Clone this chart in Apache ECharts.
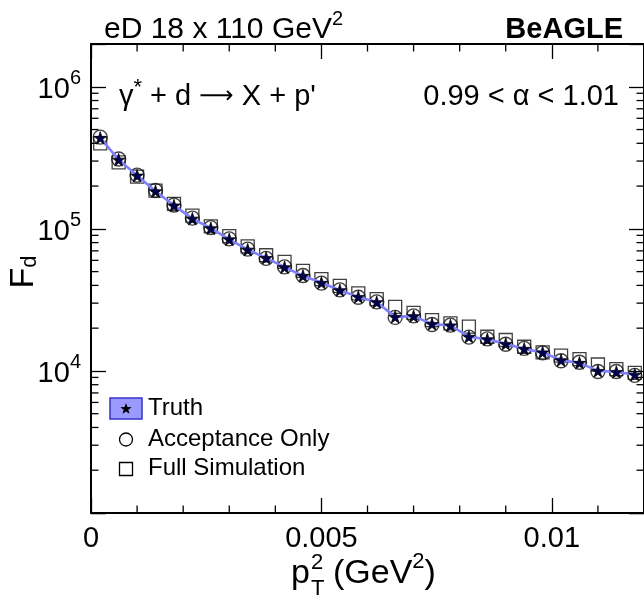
<!DOCTYPE html>
<html>
<head>
<meta charset="utf-8">
<script src="https://cdn.jsdelivr.net/npm/echarts@6/dist/echarts.min.js"></script>
<style>
html,body{margin:0;padding:0;background:#fff;}
#chart{width:644px;height:600px;}
</style>
</head>
<body>
<div id="chart"></div>
<script>
// ---- data ----
const pt2 = [0.0002, 0.0006, 0.0010, 0.0014, 0.0018, 0.0022, 0.0026, 0.0030, 0.0034, 0.0038,
             0.0042, 0.0046, 0.0050, 0.0054, 0.0058, 0.0062, 0.0066, 0.0070, 0.0074, 0.0078,
             0.0082, 0.0086, 0.0090, 0.0094, 0.0098, 0.0102, 0.0106, 0.0110, 0.0114, 0.0118];
const truth = [4.37e5, 3.07e5, 2.37e5, 1.84e5, 1.46e5, 1.18e5, 1.01e5, 8.44e4, 7.14e4, 6.24e4,
               5.37e4, 4.67e4, 4.17e4, 3.70e4, 3.32e4, 3.05e4, 2.40e4, 2.43e4, 2.14e4, 2.09e4,
               1.74e4, 1.67e4, 1.55e4, 1.43e4, 1.35e4, 1.19e4, 1.14e4, 1.00e4, 9.84e3, 9.42e3];
const acceptance = [4.42e5, 3.10e5, 2.39e5, 1.86e5, 1.47e5, 1.19e5, 1.02e5, 8.50e4, 7.20e4, 6.20e4,
                    5.40e4, 4.70e4, 4.15e4, 3.72e4, 3.30e4, 3.06e4, 2.38e4, 2.44e4, 2.12e4, 2.10e4,
                    1.73e4, 1.68e4, 1.54e4, 1.44e4, 1.34e4, 1.18e4, 1.15e4, 9.90e3, 9.90e3, 9.30e3];
const fullSim = [4.00e5, 2.94e5, 2.33e5, 1.86e5, 1.50e5, 1.24e5, 1.04e5, 8.90e4, 7.53e4, 6.52e4,
                 5.85e4, 5.06e4, 4.43e4, 3.97e4, 3.51e4, 3.20e4, 2.82e4, 2.56e4, 2.28e4, 2.16e4,
                 2.05e4, 1.74e4, 1.65e4, 1.48e4, 1.35e4, 1.28e4, 1.21e4, 1.11e4, 1.03e4, 9.70e3];
const xMajorTicks = [0, 0.005, 0.01];
const xTickLabels = ['0', '0.005', '0.01'];
const xMinorTicks = [0.001, 0.002, 0.003, 0.004, 0.006, 0.007, 0.008, 0.009, 0.011];
const yMinorTicks = [2e3,3e3,4e3,5e3,6e3,7e3,8e3,9e3, 2e4,3e4,4e4,5e4,6e4,7e4,8e4,9e4,
                     2e5,3e5,4e5,5e5,6e5,7e5,8e5,9e5];
const X_MIN = 0, X_MAX = 0.012, Y_MIN = 1000, Y_MAX = 2e6;

// ---- chart ----
const FONT = '"Liberation Sans", Arial, Helvetica, sans-serif';
const chart = echarts.init(document.getElementById('chart'), null, {renderer: 'canvas'});
const STAR = 'path://M50,0 L61.2,34.5 L97.6,34.5 L68.2,55.9 L79.4,90.5 L50,69.1 L20.6,90.5 L31.8,55.9 L2.4,34.5 L38.8,34.5 Z';

function pairs(ys) { return pt2.map((x, i) => [x, ys[i]]); }

function starPoints(cx, cy, R) {
  const pts = [];
  for (let k = 0; k < 10; k++) {
    const r = k % 2 === 0 ? R : R * 0.4;
    const a = -Math.PI / 2 + k * Math.PI / 5;
    pts.push([cx + r * Math.cos(a), cy + r * Math.sin(a)]);
  }
  return pts;
}

const tickStyle = {color: '#000', width: 1.3};
const option = {
  animation: false,
  backgroundColor: '#fff',
  grid: {left: 91, top: 44, width: 554, height: 469, show: false},
  xAxis: [
    {type: 'value', min: X_MIN, max: X_MAX, interval: 0.005, position: 'bottom',
     axisLine: {show: true, onZero: false, lineStyle: {color: '#000', width: 2}},
     axisTick: {show: true, inside: true, length: 15, lineStyle: tickStyle},
     axisLabel: {show: true, margin: 11, fontSize: 29, color: '#000', fontFamily: FONT,
                 showMaxLabel: false,
                 formatter: v => { const i = xMajorTicks.findIndex(t => Math.abs(t - v) < 1e-9); return i >= 0 ? xTickLabels[i] : ''; }},
     splitLine: {show: false}},
    {type: 'value', min: X_MIN, max: X_MAX, interval: 0.005, position: 'top',
     axisLine: {show: true, onZero: false, lineStyle: {color: '#000', width: 2}},
     axisTick: {show: true, inside: true, length: 15, lineStyle: tickStyle},
     axisLabel: {show: false}, splitLine: {show: false}}
  ],
  yAxis: [
    {type: 'log', logBase: 10, min: Y_MIN, max: Y_MAX, position: 'left',
     axisLine: {show: true, onZero: false, lineStyle: {color: '#000', width: 2}},
     axisTick: {show: true, inside: true, length: 15, lineStyle: tickStyle},
     axisLabel: {show: true, margin: 10, color: '#000', fontFamily: FONT,
       formatter: v => { const e = Math.round(Math.log10(v)); if (Math.abs(v - Math.pow(10, e)) > 1e-6 * v || e <= 3) return ''; return '{b|10}{s|' + e + '}'; },
       rich: {b: {fontSize: 29, fontFamily: FONT, color: '#000', lineHeight: 36, padding: [6, 0, 0, 0]},
              s: {fontSize: 20, fontFamily: FONT, color: '#000', verticalAlign: 'top', lineHeight: 36}}},
     splitLine: {show: false}},
    {type: 'log', logBase: 10, min: Y_MIN, max: Y_MAX, position: 'right',
     axisLine: {show: true, onZero: false, lineStyle: {color: '#000', width: 2}},
     axisTick: {show: true, inside: true, length: 15, lineStyle: tickStyle},
     axisLabel: {show: false}, splitLine: {show: false}}
  ],
  series: [
    {type: 'custom', name: 'xminor', silent: true, xAxisIndex: 0, yAxisIndex: 0, clip: false, z: 1,
     data: xMinorTicks.map(v => [v, Y_MIN]),
     renderItem: (params, api) => {
       const v = api.value(0);
       const b = api.coord([v, Y_MIN]), t = api.coord([v, Y_MAX]);
       return {type: 'group', children: [
         {type: 'line', shape: {x1: b[0], y1: b[1], x2: b[0], y2: b[1] - 7.5}, style: {stroke: '#000', lineWidth: 1.3}},
         {type: 'line', shape: {x1: t[0], y1: t[1], x2: t[0], y2: t[1] + 7.5}, style: {stroke: '#000', lineWidth: 1.3}}
       ]};
     }},
    {type: 'custom', name: 'yminor', silent: true, xAxisIndex: 0, yAxisIndex: 0, clip: false, z: 1,
     data: yMinorTicks.map(v => [X_MIN, v]),
     renderItem: (params, api) => {
       const v = api.value(1);
       const l = api.coord([X_MIN, v]), r = api.coord([X_MAX, v]);
       return {type: 'group', children: [
         {type: 'line', shape: {x1: l[0], y1: l[1], x2: l[0] + 7.5, y2: l[1]}, style: {stroke: '#000', lineWidth: 1.3}},
         {type: 'line', shape: {x1: r[0], y1: r[1], x2: r[0] - 7.5, y2: r[1]}, style: {stroke: '#000', lineWidth: 1.3}}
       ]};
     }},
    {type: 'scatter', name: 'Acceptance Only', data: pairs(acceptance), symbol: 'circle', symbolSize: 14, z: 3,
     itemStyle: {color: 'rgba(0,0,0,0)', borderColor: '#111', borderWidth: 1.4}},
    {type: 'scatter', name: 'Full Simulation', data: pairs(fullSim), symbol: 'rect', symbolSize: 13, z: 4,
     itemStyle: {color: 'rgba(0,0,0,0)', borderColor: '#111', borderWidth: 1.3}},
    {type: 'line', name: 'Truth', data: pairs(truth), symbol: STAR, symbolSize: 12.5, showSymbol: true, z: 5,
     lineStyle: {color: '#8080ff', width: 2.6},
     itemStyle: {color: '#00004d', borderColor: '#000', borderWidth: 0.8}}
  ],
  graphic: [
    {type: 'text', x: 104, y: 30, style: {text: 'eD 18 x 110 GeV{s|2}', fill: '#000', font: '30px ' + FONT, textVerticalAlign: 'middle', lineHeight: 42,
      rich: {s: {fontSize: 20, fontFamily: FONT, verticalAlign: 'top', lineHeight: 22, fill: '#000'}}}},
    {type: 'text', x: 623, y: 30, style: {text: 'BeAGLE', fill: '#000', font: 'bold 29px ' + FONT, textAlign: 'right', textVerticalAlign: 'middle'}},
    {type: 'text', x: 119, y: 97, style: {text: 'γ{s|*} + d {a|⟶} X + p\'', fill: '#000', font: '29px ' + FONT, textVerticalAlign: 'middle', lineHeight: 40,
      rich: {s: {fontSize: 22, fontFamily: FONT, verticalAlign: 'top', lineHeight: 24, fill: '#000'},
             a: {fontSize: 24, fontFamily: '"DejaVu Sans"', fill: '#000'}}}},
    {type: 'text', x: 619, y: 97, style: {text: '0.99 < α < 1.01', fill: '#000', font: '29px ' + FONT, textAlign: 'right', textVerticalAlign: 'middle'}},
    // legend
    {type: 'rect', shape: {x: 110, y: 398, width: 32, height: 21}, style: {fill: '#9a9aff', stroke: '#3535c8', lineWidth: 1.5}},
    {type: 'polygon', shape: {points: starPoints(126, 409, 6)}, style: {fill: '#000'}},
    {type: 'text', x: 148, y: 408, style: {text: 'Truth', fill: '#000', font: '24px ' + FONT, textVerticalAlign: 'middle'}},
    {type: 'circle', shape: {cx: 126, cy: 439.5, r: 6.5}, style: {fill: 'none', stroke: '#000', lineWidth: 1.3}},
    {type: 'text', x: 148, y: 439, style: {text: 'Acceptance Only', fill: '#000', font: '24px ' + FONT, textVerticalAlign: 'middle'}},
    {type: 'rect', shape: {x: 119.5, y: 462.5, width: 13, height: 13}, style: {fill: 'none', stroke: '#000', lineWidth: 1.3}},
    {type: 'text', x: 148, y: 468, style: {text: 'Full Simulation', fill: '#000', font: '24px ' + FONT, textVerticalAlign: 'middle'}},
    // axis titles
    {type: 'text', x: 291, y: 574, style: {text: 'p', fill: '#000', font: '34px ' + FONT, textVerticalAlign: 'middle'}},
    {type: 'text', x: 311, y: 563, style: {text: '2', fill: '#000', font: '22px ' + FONT, textVerticalAlign: 'middle'}},
    {type: 'text', x: 311, y: 589, style: {text: 'T', fill: '#000', font: '22px ' + FONT, textVerticalAlign: 'middle'}},
    {type: 'text', x: 333, y: 574, style: {text: '(GeV{s|2})', fill: '#000', font: '34px ' + FONT, textVerticalAlign: 'middle', lineHeight: 46,
      rich: {s: {fontSize: 22, fontFamily: FONT, verticalAlign: 'top', lineHeight: 24, fill: '#000'}}}},
    {type: 'text', x: 24, y: 272, rotation: Math.PI / 2, style: {text: 'F{s|d}', fill: '#000', font: '34px ' + FONT, textAlign: 'center', textVerticalAlign: 'middle',
      rich: {s: {fontSize: 22, fontFamily: FONT, verticalAlign: 'bottom', fill: '#000'}}}}
  ]
};
chart.setOption(option);
</script>
</body>
</html>
